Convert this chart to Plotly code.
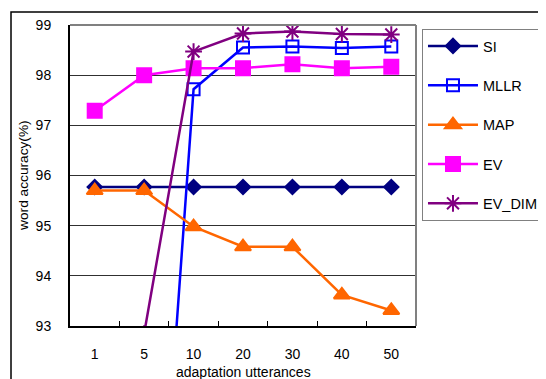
import plotly.graph_objects as go

categories = ["1", "5", "10", "20", "30", "40", "50"]
si = [95.77, 95.77, 95.77, 95.77, 95.77, 95.77, 95.77]
mllr = [83.5, 84.0, 97.72, 98.55, 98.57, 98.54, 98.57]
map_ = [95.7, 95.7, 94.98, 94.58, 94.58, 93.62, 93.31]
ev = [97.29, 98.0, 98.14, 98.14, 98.22, 98.14, 98.17]
ev_dim = [None, 92.85, 98.47, 98.83, 98.87, 98.82, 98.81]
y_ticks = [93, 94, 95, 96, 97, 98, 99]

FONT = "Liberation Sans, Arial, sans-serif"

fig = go.Figure()
series = [
    ("SI", si, "#000080", "diamond", 11),
    ("MLLR", mllr, "#0000FF", "square-open", 12),
    ("MAP", map_, "#FF6600", "triangle-up", 14),
    ("EV", ev, "#FF00FF", "square", 14),
    ("EV_DIM", ev_dim, "#800080", "asterisk-open", 14),
]
for name, vals, color, sym, size in series:
    fig.add_trace(go.Scatter(
        x=categories, y=vals, name=name, mode="lines+markers",
        line=dict(color=color, width=2.5),
        marker=dict(symbol=sym, size=size, color=color,
                    line=dict(color=color, width=2)),
        legendgroup=name, connectgaps=False,
    ))

# page has an 8px body margin: figure is 538x371 so the plot lands where the reference's does
fig.update_layout(
    width=538, height=371,
    margin=dict(l=62, r=130, t=17, b=53, autoexpand=False),
    paper_bgcolor="white", plot_bgcolor="white",
    font=dict(family=FONT, size=14, color="black"),
    showlegend=True,
    legend=dict(x=1.0173, y=0.9867, xanchor="left", yanchor="top",
                bordercolor="#808080", borderwidth=1,
                tracegroupgap=17.5, font=dict(size=14.5),
                itemwidth=50, entrywidth=120),
    xaxis=dict(type="category", categoryorder="array", categoryarray=categories,
               range=[-0.5, 6.5], showgrid=False, ticks="inside", ticklen=5,
               tickson="boundaries", tickcolor="black", showline=True,
               linecolor="black", linewidth=2, ticklabelstandoff=14,
               tickfont=dict(size=14)),
    yaxis=dict(range=[93, 99], tickvals=y_ticks, showgrid=True,
               gridcolor="#303030", gridwidth=1, showline=True,
               linecolor="black", linewidth=2, ticks="",
               ticklabelstandoff=14, tickfont=dict(size=14), zeroline=False),
    annotations=[
        dict(text="adaptation utterances", xref="paper", yref="paper",
             x=0.5, y=-0.153, xanchor="center", yanchor="middle",
             showarrow=False, font=dict(size=14)),
        dict(text="word accuracy(%)", xref="paper", yref="paper",
             x=-0.133, y=0.502, xanchor="center", yanchor="middle",
             textangle=-90, showarrow=False, font=dict(size=13.7)),
    ],
    shapes=[
        dict(type="line", xref="paper", yref="paper", x0=0, x1=1, y0=1, y1=1,
             line=dict(color="#808080", width=2)),
        dict(type="line", xref="paper", yref="paper", x0=1, x1=1, y0=0, y1=1,
             line=dict(color="#808080", width=2)),
        dict(type="rect", xref="paper", yref="paper", x0=-0.1705, x1=1.8,
             y0=-0.4, y1=1.0432, line=dict(color="black", width=1.5)),
    ],
)

fig.write_html("out.html")
